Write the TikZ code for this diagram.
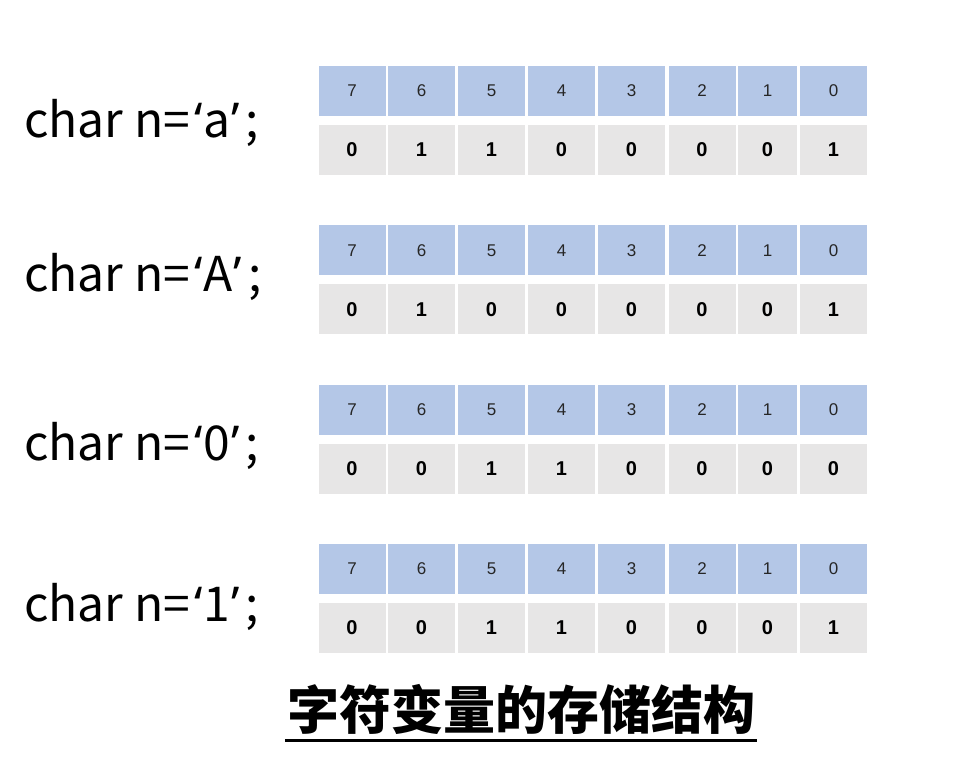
\documentclass[tikz,border=0pt]{standalone}
\usepackage{fontspec}
\setmainfont{Liberation Sans}
\newfontfamily\cjk{Noto Sans CJK SC}
\newfontfamily\declq{Noto Sans}
\definecolor{cellblue}{HTML}{B4C7E7}
\definecolor{cellgray}{HTML}{E7E6E6}
\tikzset{
  bitcell/.style={fill=cellblue, draw=none, minimum height=50pt, inner sep=0pt,
    font=\fontsize{17}{17}\selectfont, text=black!85},
  valcell/.style={fill=cellgray, draw=none, minimum height=50pt, inner sep=0pt,
    font=\fontsize{20}{20}\selectfont\bfseries},
  decl/.style={anchor=base west, inner sep=0pt, font=\cjk\fontsize{48}{48}\selectfont},
  titletext/.style={anchor=base, inner sep=0pt, font=\cjk\bfseries\fontsize{52}{52}\selectfont}
}
\begin{document}
\begin{tikzpicture}[x=1pt,y=-1pt]
\useasboundingbox[fill=white] (0,0) rectangle (971,765);
\foreach \g/\vals/\lab/\base in {0/{0,1,1,0,0,0,0,1}/a/138, 1/{0,1,0,0,0,0,0,1}/A/291.5, 2/{0,0,1,1,0,0,0,0}/0/460, 3/{0,0,1,1,0,0,0,1}/1/621.5}{
  \node[decl] (lab\g) at (24,\base) {char n=\kern4pt{\declq ‘}\kern1pt\lab\kern1pt{\declq ’}\kern6pt;};
  \foreach \cx/\w [count=\i from 0] in {352/67, 421.5/67, 491.5/67, 561.5/67, 631.5/67, 702/67, 767.5/59, 833.5/67}{
    \pgfmathtruncatemacro{\bit}{7-\i}
    \pgfmathsetmacro{\yb}{91+159.3*\g}
    \pgfmathsetmacro{\yv}{150+159.3*\g}
    \pgfmathtruncatemacro{\v}{{\vals}[\i]}
    \node[bitcell, minimum width=\w pt] (b\g-\i) at (\cx,\yb) {\bit};
    \node[valcell, minimum width=\w pt] (v\g-\i) at (\cx,\yv) {\v};
  }
}
\node[titletext] (title) at (521,729) {字符变量的存储结构};
\draw[line width=3pt] ([xshift=-2pt]title.south west |- 0,740.5) coordinate (ul) -- ([xshift=2pt]title.south east |- 0,740.5) coordinate (ur);
\end{tikzpicture}
\end{document}
